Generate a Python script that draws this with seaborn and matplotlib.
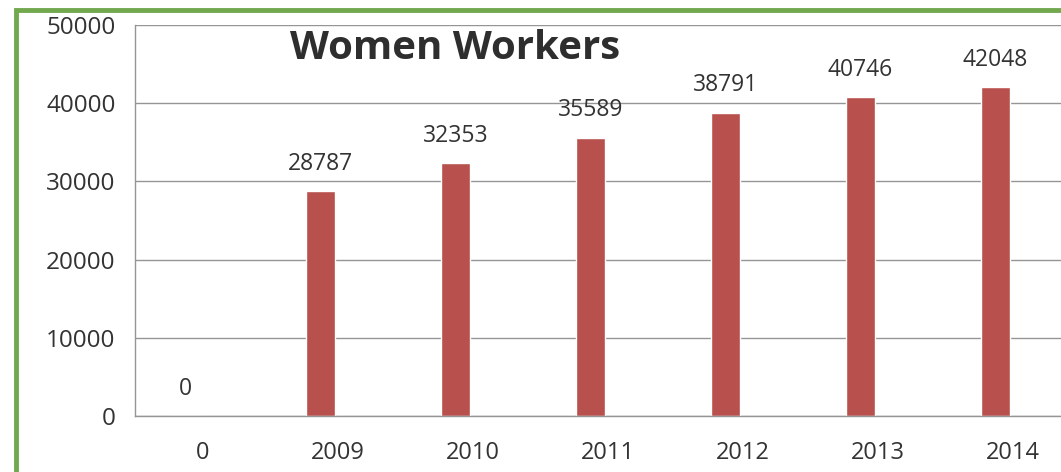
import numpy as np
import pandas as pd
from matplotlib import pyplot as plt
from matplotlib.patches import Rectangle
import seaborn as sns

sns.set_style("white")
plt.rcParams['font.family'] = ['Open Sans', 'DejaVu Sans']

years = ["0", "2009", "2010", "2011", "2012", "2013", "2014"]
workers = [0, 28787, 32353, 35589, 38791, 40746, 42048]

df = pd.DataFrame({"year": years, "workers": workers})

fig = plt.figure(figsize=(10.61, 4.72), dpi=100)
ax = fig.add_axes([0.1272, 0.1186, 0.8907, 0.8284])

sns.barplot(data=df, x="year", y="workers", color="#b8504d", saturation=1,
            width=0.22, ax=ax)

# bars sit a bit left of the category centre, as in the original sheet
for p in ax.patches:
    p.set_x(p.get_x() - 0.125)

ax.set_xlim(-0.5, 6.5)
ax.set_ylim(0, 50000)
ax.set_yticks(np.arange(0, 50001, 10000))
ax.yaxis.grid(True, color="#959595", linewidth=1)
ax.set_axisbelow(True)
ax.set_xlabel("")
ax.set_ylabel("")
for s in ["top", "right"]:
    ax.spines[s].set_visible(False)
for s in ["left", "bottom"]:
    ax.spines[s].set_color("#959595")
    ax.spines[s].set_linewidth(1)
ax.tick_params(axis="y", length=0, pad=14, labelsize=17.5, labelcolor="#333333")
ax.tick_params(axis="x", length=0, pad=18, labelsize=17, labelcolor="#333333")

ax.bar_label(ax.containers[0], labels=[str(v) for v in workers], padding=11,
             fontsize=16.5, color="#333333")

ax.text(0.164, 0.94, "Women Workers", transform=ax.transAxes, fontsize=29,
        fontweight="bold", color="#2e2e2e", va="center", ha="left")

# green frame around the chart
fig.patches.append(Rectangle((0.0155, -0.02), 1.1, 0.9995, transform=fig.transFigure,
                             fill=False, edgecolor="#72a84e", linewidth=3.5))

fig.savefig("out.png", dpi=100)
